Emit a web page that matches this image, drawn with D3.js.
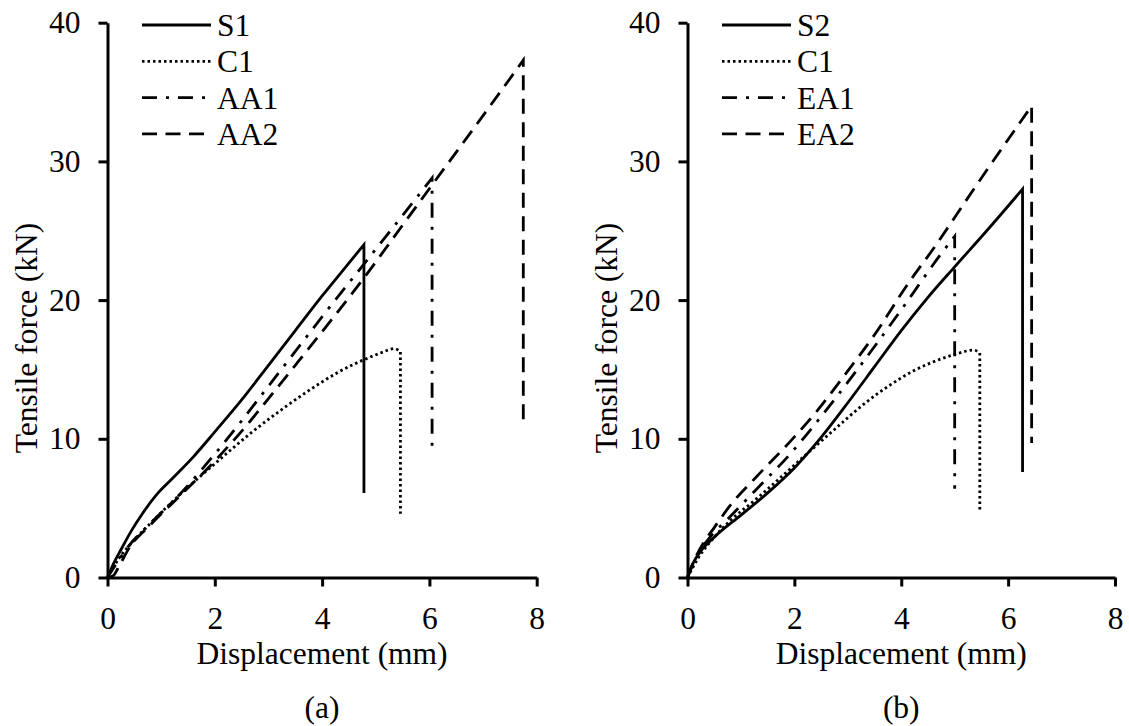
<!DOCTYPE html>
<html>
<head>
<meta charset="utf-8">
<script src="https://cdn.jsdelivr.net/npm/d3@7"></script>
<style>
  body { margin: 0; background: #fff; }
  text { font-family: "Liberation Serif", "Times New Roman", serif; fill: #000; }
</style>
</head>
<body>
<div id="wrapper"></div>
<script>
// 1. Data (displacement in mm, force in kN)
// last point of every series is the drop after failure

// panel (a)
const s1X  = [0, 0.1, 0.25, 0.45, 0.65, 0.9, 1.2, 1.6, 2.0, 2.5, 3.0, 3.5, 4.0, 4.4, 4.78, 4.78]
const s1Y  = [0, 0.9, 2.0, 3.4, 4.6, 5.9, 7.1, 8.7, 10.5, 12.8, 15.3, 17.8, 20.3, 22.2, 24.0, 6.1]
const c1aX = [0, 0.2, 0.5, 0.8, 1.3, 2.0, 2.7, 3.35, 3.8, 4.3, 4.84, 5.1, 5.34, 5.46, 5.46]
const c1aY = [0, 1.3, 2.7, 3.9, 5.8, 8.2, 10.5, 12.4, 13.6, 14.8, 15.8, 16.2, 16.5, 16.3, 4.6]
const aa1X = [0, 0.15, 0.4, 0.8, 1.3, 2.0, 2.5, 3.0, 3.5, 4.0, 4.78, 5.5, 6.05, 6.05]
const aa1Y = [0, 0.9, 2.3, 3.9, 5.8, 8.9, 11.3, 13.8, 16.3, 18.8, 22.6, 26.1, 28.8, 9.0]
const aa2X = [0, 0.1, 0.24, 0.4, 0.8, 1.3, 2.0, 2.6, 3.0, 3.5, 4.2, 4.78, 5.5, 6.05, 7.0, 7.75, 7.75]
const aa2Y = [0, 0.1, 1.0, 2.1, 3.8, 5.7, 8.4, 11.0, 12.9, 15.3, 18.7, 21.6, 25.4, 28.3, 33.3, 37.3, 10.9]

// panel (b)
const s2X  = [0, 0.1, 0.25, 0.5, 1.0, 1.5, 2.0, 2.5, 3.0, 3.5, 4.0, 4.5, 5.0, 5.6, 6.27, 6.27]
const s2Y  = [0, 1.0, 1.9, 2.9, 4.5, 6.1, 7.9, 10.1, 12.6, 15.2, 17.8, 20.2, 22.4, 25.0, 28.0, 7.6]
const c1bX = [0, 0.2, 0.5, 0.8, 1.3, 1.74, 2.2, 2.73, 3.3, 3.8, 4.23, 4.85, 5.1, 5.35, 5.47, 5.47]
const c1bY = [0, 1.4, 2.9, 4.1, 5.7, 7.2, 8.8, 10.6, 12.5, 13.9, 14.9, 15.9, 16.2, 16.4, 16.2, 4.7]
const ea1X = [0, 0.15, 0.4, 0.8, 1.3, 1.92, 2.5, 3.2, 4.0, 4.72, 5.0, 5.0]
const ea1Y = [0, 1.4, 2.8, 4.4, 6.4, 8.9, 11.6, 15.1, 19.3, 23.2, 24.6, 6.4]
const ea2X = [0, 0.1, 0.3, 0.5, 0.8, 1.3, 1.92, 2.4, 3.0, 3.5, 4.13, 4.6, 5.41, 6.44, 6.44]
const ea2Y = [0, 1.0, 2.5, 3.6, 5.2, 7.3, 9.8, 11.9, 14.9, 17.5, 21.2, 23.7, 28.3, 34.0, 9.7]

const xTicks = [0, 2, 4, 6, 8]
const yTicks = [0, 10, 20, 30, 40]

const zip = (xs, ys) => xs.map((x, i) => ({ x, y: ys[i] }))

const styles = {
    solid:   { dash: null },
    dotted:  { dash: "2.5,3" },
    dashdot: { dash: "15,9,3,9" },
    dashed:  { dash: "15,8.5" },
}

const panels = [
    {
        caption: "(a)",
        left: 107.5,
        right: 536.7,
        series: [
            { name: "S1",  style: "solid",   data: zip(s1X, s1Y) },
            { name: "C1",  style: "dotted",  data: zip(c1aX, c1aY) },
            { name: "AA1", style: "dashdot", data: zip(aa1X, aa1Y) },
            { name: "AA2", style: "dashed",  data: zip(aa2X, aa2Y) },
        ],
    },
    {
        caption: "(b)",
        left: 687.5,
        right: 1115,
        series: [
            { name: "S2",  style: "solid",   data: zip(s2X, s2Y) },
            { name: "C1",  style: "dotted",  data: zip(c1bX, c1bY) },
            { name: "EA1", style: "dashdot", data: zip(ea1X, ea1Y) },
            { name: "EA2", style: "dashed",  data: zip(ea2X, ea2Y) },
        ],
    },
]

// 2. Dimensions
const dimensions = {
    width: 1129,
    height: 726,
    top: 22.7,
    bottom: 577.5,
    fontSize: 31.5,
}

// 3. Canvas
const wrapper = d3.select("#wrapper")
    .append("svg")
    .attr("width", dimensions.width)
    .attr("height", dimensions.height)

wrapper.append("rect")
    .attr("width", dimensions.width)
    .attr("height", dimensions.height)
    .attr("fill", "#fff")

panels.forEach(panel => {
    // 4. Scales
    const xScale = d3.scaleLinear()
        .domain([0, 8])
        .range([panel.left, panel.right])

    const yScale = d3.scaleLinear()
        .domain([0, 40])
        .range([dimensions.bottom, dimensions.top])

    const g = wrapper.append("g")

    // 5. Data
    const lineGen = d3.line()
        .x(d => xScale(d.x))
        .y(d => yScale(d.y))
        .curve(d3.curveMonotoneX)

    panel.series.forEach(s => {
        const rise = s.data.slice(0, -1)
        const drop = s.data[s.data.length - 1]
        g.append("path")
            .attr("d", lineGen(rise) + `L${xScale(drop.x)},${yScale(drop.y)}`)
            .attr("fill", "none")
            .attr("stroke", "#000")
            .attr("stroke-width", 2.8)
            .attr("stroke-dasharray", styles[s.style].dash)
    })

    // 6. Peripherals
    g.append("g")
        .attr("transform", `translate(0, ${dimensions.bottom})`)
        .call(d3.axisBottom(xScale)
            .tickValues(xTicks)
            .tickSize(9)
            .tickSizeOuter(0)
            .tickPadding(20))

    g.append("g")
        .attr("transform", `translate(${panel.left}, 0)`)
        .call(d3.axisLeft(yScale)
            .tickValues(yTicks)
            .tickSize(9)
            .tickSizeOuter(0)
            .tickPadding(18))

    g.selectAll(".domain, .tick line")
        .attr("stroke", "#000")
        .attr("stroke-width", 3)
    g.selectAll(".tick text")
        .attr("font-family", "Liberation Serif, Times New Roman, serif")
        .attr("font-size", dimensions.fontSize)
        .attr("fill", "#000")

    const mid = (panel.left + panel.right) / 2

    g.append("text")
        .attr("x", mid)
        .attr("y", 664)
        .attr("text-anchor", "middle")
        .style("font-size", dimensions.fontSize + "px")
        .text("Displacement (mm)")

    g.append("text")
        .attr("x", mid)
        .attr("y", 718)
        .attr("text-anchor", "middle")
        .style("font-size", dimensions.fontSize + "px")
        .text(panel.caption)

    g.append("text")
        .attr("transform", `translate(${panel.left - 71}, 338) rotate(-90)`)
        .attr("text-anchor", "middle")
        .style("font-size", dimensions.fontSize + "px")
        .text("Tensile force (kN)")

    // legend
    const legend = g.append("g")
        .attr("transform", `translate(${panel.left + 34.5}, 0)`)

    panel.series.forEach((s, i) => {
        const rowY = 25 + i * 36.3
        legend.append("line")
            .attr("x1", 0)
            .attr("x2", 69)
            .attr("y1", rowY)
            .attr("y2", rowY)
            .attr("stroke", "#000")
            .attr("stroke-width", 2.8)
            .attr("stroke-dasharray", styles[s.style].dash)
        legend.append("text")
            .attr("x", 75)
            .attr("y", rowY + 11)
            .style("font-size", dimensions.fontSize + "px")
            .text(s.name)
    })
})
</script>
</body>
</html>
